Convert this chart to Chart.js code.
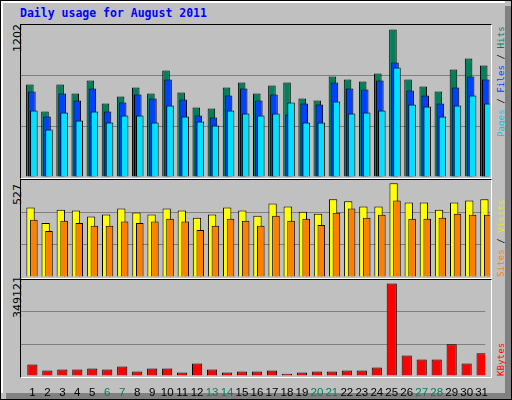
<!DOCTYPE html>
<html><head><meta charset="utf-8">
<script src="https://cdn.jsdelivr.net/npm/chart.js@4"></script>
<style>
body{margin:0;width:512px;height:400px;overflow:hidden;background:#fff;}
#frame{position:absolute;left:0;top:0;width:510px;height:398px;border:1px solid #000;background:#C0C0C0;}
#shadowR{position:absolute;left:505px;top:6px;width:6px;height:393px;background:#808080;}
#shadowB{position:absolute;left:6px;top:393px;width:505px;height:6px;background:#808080;}
#hl{position:absolute;left:1px;top:1px;width:504px;height:392px;border-top:2px solid #fff;border-left:2px solid #fff;box-sizing:border-box;}
.panel{position:absolute;left:20px;width:470px;border-top:1px solid #000;border-left:1px solid #000;border-right:1px solid #fff;border-bottom:1px solid #fff;}
canvas{position:absolute;}
.rot{position:absolute;transform-origin:0 0;transform:rotate(-90deg);white-space:nowrap;font-family:"DejaVu Sans Mono",monospace;font-size:9.2px;}
.ylab{position:absolute;transform-origin:0 0;transform:rotate(-90deg);white-space:nowrap;font-family:"DejaVu Sans",sans-serif;font-size:11px;color:#000;}
#title{position:absolute;left:20px;top:6px;font-family:"DejaVu Sans Mono",monospace;font-weight:bold;font-size:11.5px;color:#0000FF;}
</style></head><body>
<div id="frame"></div><div id="shadowR"></div><div id="shadowB"></div><div id="hl"></div>
<div id="title">Daily usage for August 2011</div>
<div class="panel" style="top:24px;height:153px"></div>
<div class="panel" style="top:179px;height:98px"></div>
<div class="panel" style="top:279px;height:97px"></div>
<div class="ylab" style="left:11px;top:52px">1202</div>
<div class="ylab" style="left:11px;top:205px">527</div>
<div class="ylab" style="left:11px;top:318px">349121</div>
<div class="rot" style="left:495px;top:137px"><span style="color:#00C8E8">Pages</span> / <span style="color:#0040FF">Files</span> / <span style="color:#00805C">Hits</span></div>
<div class="rot" style="left:495px;top:277px"><span style="color:#FF8000">Sites</span> / <span style="color:#E8E800">Visits</span></div>
<div class="rot" style="left:495px;top:376px"><span style="color:#FF0000">KBytes</span></div>
<canvas id="c1" style="left:21px;top:25px"></canvas>
<canvas id="c2" style="left:21px;top:180px"></canvas>
<canvas id="c3" style="left:21px;top:280px"></canvas>
<script>
const days=[1,2,3,4,5,6,7,8,9,10,11,12,13,14,15,16,17,18,19,20,21,22,23,24,25,26,27,28,29,30,31];
const weekend=[6,7,13,14,20,21,27,28];
const hits=[732,518,732,660,763,581,637,708,660,843,668,550,542,708,748,660,724,748,621,605,795,771,756,819,1167,771,716,676,851,938,882];
const files=[676,478,660,605,700,518,589,652,621,771,613,486,470,645,700,605,652,494,581,573,748,700,692,763,906,684,645,581,708,795,771];
const pages=[526,375,510,447,518,431,486,486,431,565,478,439,407,526,502,486,502,589,431,431,597,502,510,526,866,573,557,478,565,645,581];
const visits=[377,294,366,361,329,340,372,350,340,372,361,322,340,377,361,333,399,383,355,344,422,411,383,383,510,405,405,366,405,416,422];
const sites=[311,250,305,294,279,279,301,294,301,316,301,255,279,316,305,279,333,305,316,283,349,372,322,338,416,316,316,322,344,338,338];
const kbytes=[41800,19700,23400,23400,27000,23400,34400,16000,27000,27000,12300,45500,23400,12300,16000,16000,19700,8600,12300,16000,16000,19700,19700,30700,336700,75000,60200,60200,115500,45500,82300];
const maxTop=1202, maxMid=527, maxBot=349121;

function xAxis(shift,show){
  return {type:'linear',display:show,min:0.5-shift,max:31.5-shift,offset:false,
    grid:{display:false},border:{display:false},
    afterBuildTicks:s=>{s.ticks=days.map(v=>({value:v}));},
    afterFit:s=>{s.height=show?20:0;},
    ticks:{autoSkip:false,maxRotation:0,padding:2,font:{family:'Liberation Sans',size:11.5},
      color:c=>weekend.includes(c.tick.value)?'#00805C':'#000',callback:v=>v}};
}
function yAxis(max){
  return {display:true,min:0,max:max,afterBuildTicks:s=>{s.ticks=[0,max/3,2*max/3,max].map(v=>({value:v}));},
    afterFit:s=>{s.width=0;},ticks:{display:false},border:{display:false},
    grid:{color:c=>(c.index==1||c.index==2)?'#808080':'rgba(0,0,0,0)',lineWidth:1,drawTicks:false}};
}
function ds(data,color,axis,order,pct){
  return {data:days.map((d,i)=>({x:d,y:data[i]})),backgroundColor:color,borderColor:'#000',borderWidth:1,
    xAxisID:axis,order:order,grouped:false,barPercentage:pct,categoryPercentage:1};
}
function make(id,w,h,datasets,xs,max){
  const c=document.getElementById(id);c.width=w;c.height=h;c.style.width=w+'px';c.style.height=h+'px';
  const scales={y:yAxis(max)};Object.assign(scales,xs);
  new Chart(c,{type:'bar',data:{datasets:datasets},options:{responsive:false,animation:false,
    layout:{padding:0},plugins:{legend:{display:false},tooltip:{enabled:false}},scales:scales}});
}
make('c1',469,152,[ds(pages,'#00E0FF','xp',0,0.5),ds(files,'#0040FF','xf',1,0.5),ds(hits,'#00805C','xh',2,0.5)],
  {xp:xAxis(0.35,false),xf:xAxis(0.22,false),xh:xAxis(0.085,false)},maxTop);
make('c2',469,97,[ds(sites,'#FF8000','xs',0,0.5),ds(visits,'#FFFF00','xv',1,0.55)],
  {xs:xAxis(0.35,false),xv:xAxis(0.13,false)},maxMid);
make('c3',469,116,[ds(kbytes,'#FF0000','xk',0,0.68)],{xk:xAxis(0.26,true)},maxBot);
</script></body></html>
